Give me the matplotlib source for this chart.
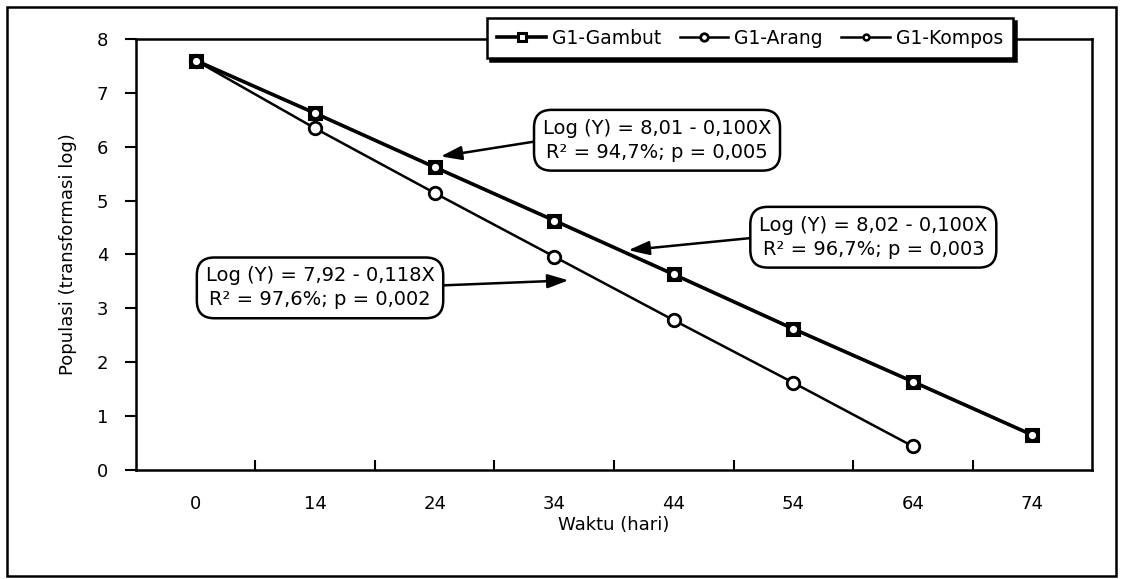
import matplotlib.pyplot as plt
from matplotlib.patches import Rectangle

# data
days = ['0', '14', '24', '34', '44', '54', '64', '74']
gambut = [7.6, 6.62, 5.62, 4.63, 3.63, 2.62, 1.64, 0.65]
arang = [7.6, 6.34, 5.14, 3.96, 2.78, 1.62, 0.44]
kompos = [7.6, 6.62, 5.62, 4.63, 3.63, 2.62, 1.64, 0.65]

eq_gambut = 'Log (Y) = 8,01 - 0,100X\nR² = 94,7%; p = 0,005'
eq_kompos = 'Log (Y) = 8,02 - 0,100X\nR² = 96,7%; p = 0,003'
eq_arang = 'Log (Y) = 7,92 - 0,118X\nR² = 97,6%; p = 0,002'

plt.rcParams['font.family'] = ['DejaVu Sans']

fig = plt.figure(figsize=(11.23, 5.79), dpi=100)
ax = fig.add_axes([0.1211, 0.1883, 0.8513, 0.7444])

x = list(range(len(days)))
ax.plot(x, gambut, color='black', lw=2.6, marker='s', ms=9, mfc='white', mec='black', mew=2.2, label='G1-Gambut', zorder=3)
ax.plot(x[:len(arang)], arang, color='black', lw=1.8, marker='o', ms=9, mfc='white', mec='black', mew=2.0, label='G1-Arang', zorder=3)
ax.plot(x, kompos, color='black', lw=1.8, marker='o', ms=7, mfc='white', mec='black', mew=1.8, label='G1-Kompos', zorder=4)

ax.set_xlim(-0.5, 7.5)
ax.set_ylim(0, 8)
ax.set_xticks(x)
ax.set_xticklabels(days)
ax.set_xticks([i + 0.5 for i in range(7)], minor=True)
ax.tick_params(axis='x', which='major', length=0, pad=18, labelsize=13)
ax.tick_params(axis='x', which='minor', direction='in', length=7, width=1.5)
ax.set_yticks(range(9))
ax.tick_params(axis='y', direction='out', length=8, width=1.5, pad=12, labelsize=13)
for s in ax.spines.values():
    s.set_linewidth(1.8)

ax.set_xlabel('Waktu (hari)', fontsize=13, labelpad=2)
ax.set_ylabel('Populasi (transformasi log)', fontsize=13, labelpad=14)

box = dict(boxstyle='round,pad=0.45,rounding_size=0.9', fc='white', ec='black', lw=1.8)
arr = dict(arrowstyle='-|>,head_length=0.9,head_width=0.3', color='black', lw=1.8, shrinkA=0, shrinkB=0)
txt = dict(fontsize=14, ha='center', va='center', linespacing=1.35, bbox=box, zorder=6)

ax.annotate(eq_gambut, xy=(2.05, 5.82), xytext=(3.86, 6.12),
            arrowprops=dict(arr, relpos=(0, 0.5)), **txt)
ax.annotate(eq_kompos, xy=(3.62, 4.08), xytext=(5.67, 4.32),
            arrowprops=dict(arr, relpos=(0, 0.5)), **txt)
ax.annotate(eq_arang, xy=(3.12, 3.52), xytext=(1.04, 3.38),
            arrowprops=dict(arr, relpos=(1, 0.55)), **txt)

leg = fig.legend(loc='center', bbox_to_anchor=(0.668, 0.934), ncol=3, fontsize=13.5,
                 frameon=True, fancybox=False, edgecolor='black', markerscale=0.6,
                 handlelength=2.6, handletextpad=0.3, columnspacing=1.0,
                 borderpad=0.55, shadow={'color': 'black', 'alpha': 1, 'ox': 2, 'oy': -2})
leg.get_frame().set_linewidth(1.8)

fig.patches.append(Rectangle((0.0062, 0.0052), 0.9875, 0.9827, transform=fig.transFigure,
                             fill=False, ec='black', lw=1.8))

fig.savefig('out.png', dpi=100)
